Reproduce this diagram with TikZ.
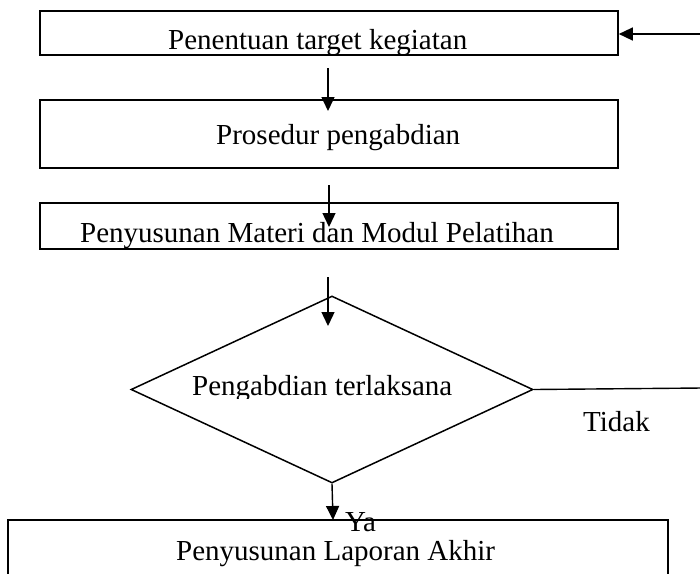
\documentclass[tikz,border=0pt]{standalone}
\usepackage{fontspec}
\setmainfont{Liberation Serif}
\usetikzlibrary{arrows.meta,shapes.geometric}
\tikzset{
  procbox/.style={draw, line width=1.6pt, rectangle, inner sep=0pt, minimum width=578pt},
  decbox/.style={draw, line width=1.5pt, diamond, inner sep=0pt, aspect=2.15, minimum width=402pt, minimum height=187pt},
  lbl/.style={anchor=base west, inner sep=0pt, font=\fontsize{29}{34}\selectfont},
  arr/.style={line width=1.4pt, -{Triangle[length=14pt,width=13pt]}},
  plainline/.style={line width=1.4pt}
}
\begin{document}
\begin{tikzpicture}[x=1pt,y=-1pt]
\clip (0,0) rectangle (700,573);
\useasboundingbox (0,0) rectangle (700,573);
% boxes
\node[procbox, minimum height=44pt] (b1) at (329,33) {};
\node[procbox, minimum height=68pt] (b2) at (329,134) {};
\node[procbox, minimum height=46pt] (b3) at (329,226) {};
\node[decbox] (d) at (332,389.5) {};
\node[procbox, minimum width=660pt, minimum height=80pt] (b4) at (338,560) {};
% texts
\node[lbl] (t1) at (168,49) {Penentuan target kegiatan};
\node[lbl] (t2) at (216,144) {Prosedur pengabdian};
\node[lbl] (t3) at (80,242) {Penyusunan Materi dan Modul Pelatihan};
\begin{scope}
\clip (150,360) rectangle (520,398.5);
\node[lbl] (t4) at (192,395) {Pengabdian terlaksana};
\end{scope}
\node[lbl] (t5) at (176,560) {Penyusunan Laporan Akhir};
\node[lbl] (tidak) at (583,431) {Tidak};
\node[lbl] (ya) at (345,531) {Ya};
% connector coordinates
\coordinate (a1s) at (328,68);
\coordinate (a1e) at (328,111);
\coordinate (a2s) at (329,185);
\coordinate (a2e) at (329,227);
\coordinate (a3s) at (328,277);
\coordinate (a3e) at (328,326);
\coordinate (a4e) at (333,520);
\coordinate (rr) at (702,388);
\coordinate (rt) at (702,34);
% connectors
\draw[arr] (a1s) -- (a1e);
\draw[arr] (a2s) -- (a2e);
\draw[arr] (a3s) -- (a3e);
\draw[arr] (d.south) -- (a4e);
\draw[plainline] (d.east) -- (rr);
\draw[arr] (rt) -- (b1.east |- rt);
\end{tikzpicture}
\end{document}
